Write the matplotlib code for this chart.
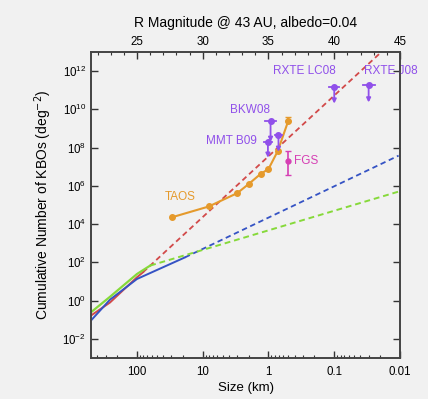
import numpy as np
import matplotlib.pyplot as plt
from matplotlib.ticker import FixedLocator, MultipleLocator

# model curves (size in km, log10 of cumulative number per deg^2)
rod_D = [500, 257, 100, 81]
rod_logN = [-0.78, -0.1, 1.22, 1.48]
rod_dash_D = [81, 0.01]
rod_dash_logN = [1.48, 13.9]

blå_D = [500, 257, 100, 18.6]
blå_logN = [-1.04, 0.05, 1.13, 2.26]
blå_dash_D = [18.6, 0.0105]
blå_dash_logN = [2.26, 7.58]

grønn_D = [500, 257, 100, 63]
grønn_logN = [-0.61, 0.2, 1.39, 1.83]
grønn_dash_D = [63, 0.0105]
grønn_dash_logN = [1.83, 5.7]

# TAOS
taos_D = [29.8, 8.1, 2.98, 2.01, 1.32, 1.0, 0.72, 0.5]
taos_logN = [4.35, 4.92, 5.62, 6.09, 6.62, 6.88, 7.83, 9.4]
taos_feil_opp = 0.22

# upper limits
grense_D = [0.1, 0.030, 0.93, 1.02, 0.705]
grense_logN = [11.17, 11.28, 9.40, 8.27, 8.67]
grense_bunn = [10.30, 10.36, 8.30, 7.47, 7.78]
grense_bredde = [0.076, 0.09, 0.083, 0.06, 0.053]

# FGS
fgs_D = [0.50]
fgs_logN = [7.31]
fgs_lav = [6.56]
fgs_hoy = [7.83]

lilla = "#9050ea"
oransje = "#e59a2c"
magenta = "#d63fb4"
rod = "#d24a4a"
blå = "#3553c4"
grønn = "#86d93a"
bakgrunn = "#f1f1f1"

plt.rcParams['font.family'] = ['Liberation Sans', 'DejaVu Sans']

fig = plt.figure(figsize=(4.28, 3.99), dpi=100, facecolor=bakgrunn)
ax = fig.add_axes([0.2126, 0.1028, 0.722, 0.767])
ax.set_facecolor(bakgrunn)

ax.plot(rod_D, 10 ** np.array(rod_logN), color=rod, lw=1.4)
ax.plot(rod_dash_D, 10 ** np.array(rod_dash_logN), color=rod, lw=1.3, ls=(0, (3, 2)))
ax.plot(blå_D, 10 ** np.array(blå_logN), color=blå, lw=1.4)
ax.plot(blå_dash_D, 10 ** np.array(blå_dash_logN), color=blå, lw=1.3, ls=(0, (3, 2)))
ax.plot(grønn_D, 10 ** np.array(grønn_logN), color=grønn, lw=1.6)
ax.plot(grønn_dash_D, 10 ** np.array(grønn_dash_logN), color=grønn, lw=1.4, ls=(0, (3, 2)))

# TAOS
ax.plot(taos_D, 10 ** np.array(taos_logN), color=oransje, lw=1.5, marker="o", ms=4)
siste = 10 ** taos_logN[-1]
ax.errorbar([taos_D[-1]], [siste], yerr=[[0], [siste * (10 ** taos_feil_opp - 1)]],
            color=oransje, lw=1.2, capsize=2.5, fmt="none")
ax.text(22, 10 ** 5.43, "TAOS", color=oransje, fontsize=8.5, ha="center", va="center")

# upper limits
for d, n, b, w in zip(grense_D, grense_logN, grense_bunn, grense_bredde):
    ax.plot([d * 10 ** w, d / 10 ** w], [10 ** n, 10 ** n], color=lilla, lw=1.3)
    ax.plot([d], [10 ** n], marker="o", ms=4, color=lilla)
    ax.annotate("", xy=(d, 10 ** b), xytext=(d, 10 ** n),
                arrowprops=dict(arrowstyle="-|>", color=lilla, lw=1.3, mutation_scale=6,
                                shrinkA=0, shrinkB=0))

ax.text(0.285, 10 ** 12.0, "RXTE LC08", color=lilla, fontsize=8.5, ha="center", va="center")
ax.text(0.0137, 10 ** 12.0, "RXTE J08", color=lilla, fontsize=8.5, ha="center", va="center",
        clip_on=False)
ax.text(1.89, 10 ** 9.98, "BKW08", color=lilla, fontsize=8.5, ha="center", va="center")
ax.text(3.6, 10 ** 8.34, "MMT B09", color=lilla, fontsize=8.5, ha="center", va="center")

# FGS
fgs_y = 10 ** np.array(fgs_logN)
ax.errorbar(fgs_D, fgs_y,
            yerr=[fgs_y - 10 ** np.array(fgs_lav), 10 ** np.array(fgs_hoy) - fgs_y],
            color=magenta, fmt="o", ms=3.5, lw=1.2, capsize=2.5)
ax.text(0.265, 10 ** 7.31, "FGS", color=magenta, fontsize=8.5, ha="center", va="center")

ax.set_xscale("log")
ax.set_yscale("log")
ax.set_xlim(500, 0.01)
ax.set_ylim(1e-3, 1e13)

ax.set_xticks([100, 10, 1, 0.1, 0.01])
ax.set_xticklabels(["100", "10", "1", "0.1", "0.01"])
ax.set_yticks([10.0 ** k for k in range(-2, 13, 2)])
ax.yaxis.set_minor_locator(FixedLocator([]))
ax.tick_params(which="both", direction="in", labelsize=8.3, colors="#333333",
               labelcolor="black", right=True)
ax.tick_params(which="major", length=5, width=1)
ax.tick_params(which="minor", length=2.5, width=0.8)
ax.tick_params(axis="x", pad=6)

ax.set_xlabel("Size (km)", fontsize=9.5, labelpad=3)
ax.set_ylabel("Cumulative Number of KBOs (deg$^{-2}$)", fontsize=10, labelpad=6)

for s in ax.spines.values():
    s.set_color("#444444")
    s.set_linewidth(1.2)

# top axis: R magnitude
topp = ax.twiny()
topp.set_xlim(35 - 5 * np.log10(500), 35 - 5 * np.log10(0.01))
topp.xaxis.set_major_locator(MultipleLocator(5))
topp.xaxis.set_minor_locator(MultipleLocator(1))
topp.tick_params(which="both", direction="in", labelsize=8.3, colors="#333333",
                 labelcolor="black", pad=3)
topp.tick_params(which="major", length=5, width=1)
topp.tick_params(which="minor", length=2.5, width=0.8)
topp.set_xlabel("R Magnitude @ 43 AU, albedo=0.04", fontsize=10, labelpad=6)
for s in topp.spines.values():
    s.set_color("#444444")
    s.set_linewidth(1.2)

fig.savefig("out.png", dpi=100, facecolor=bakgrunn)
